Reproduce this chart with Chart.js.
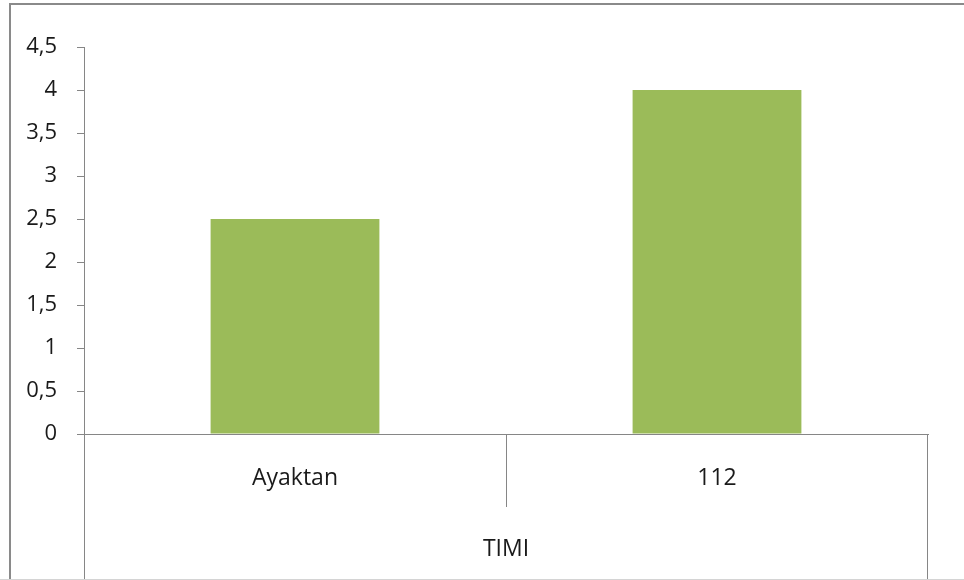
<!DOCTYPE html>
<html>
<head>
<meta charset="utf-8">
<script src="https://cdn.jsdelivr.net/npm/chart.js@4/dist/chart.umd.min.js"></script>
<style>
  html, body { margin: 0; padding: 0; background: #ffffff; }
  #wrap { width: 964px; height: 580px; position: relative; }
</style>
</head>
<body>
<div id="wrap"><canvas id="c" width="964" height="580"></canvas></div>
<script>
// Categories and values
const categories = ['Ayaktan', '112'];
const groupLabel = 'TIMI';
const values = [2.5, 4];
const yMin = 0;
const yMax = 4.5;
const yStep = 0.5;

const FONT = '"Open Sans", "Noto Sans", sans-serif';
const AXIS_GRAY = '#868686';

// Excel-style chart frame and multi-level category boxes
const framePlugin = {
  id: 'frame',
  afterDraw(chart) {
    const { ctx } = chart;
    const x = chart.scales.x;
    const area = chart.chartArea;
    const W = chart.width, H = chart.height;
    ctx.save();
    // category box lines
    ctx.strokeStyle = AXIS_GRAY;
    ctx.lineWidth = 1;
    const mid = (x.getPixelForValue(0) + x.getPixelForValue(1)) / 2;
    ctx.beginPath();
    ctx.moveTo(Math.round(x.left) + 0.5, area.bottom);
    ctx.lineTo(Math.round(x.left) + 0.5, H);
    ctx.moveTo(Math.round(x.right) - 0.5, area.bottom);
    ctx.lineTo(Math.round(x.right) - 0.5, H);
    ctx.moveTo(Math.round(mid) + 0.5, area.bottom);
    ctx.lineTo(Math.round(mid) + 0.5, area.bottom + 73);
    ctx.stroke();
    // outer chart border
    ctx.strokeStyle = '#8a8a8a';
    ctx.lineWidth = 2;
    ctx.beginPath();
    ctx.moveTo(10, H);
    ctx.lineTo(10, 4);
    ctx.lineTo(W, 4);
    ctx.stroke();
    ctx.strokeStyle = '#d4d4d4';
    ctx.lineWidth = 1;
    ctx.beginPath();
    ctx.moveTo(0, H - 0.5);
    ctx.lineTo(W, H - 0.5);
    ctx.stroke();
    ctx.restore();
  }
};

new Chart(document.getElementById('c'), {
  type: 'bar',
  data: {
    labels: categories,
    datasets: [{
      data: values,
      backgroundColor: '#9BBB59',
      borderWidth: 0,
      categoryPercentage: 1,
      barPercentage: 0.4
    }]
  },
  options: {
    responsive: false,
    animation: false,
    events: [],
    layout: { padding: { left: 0, top: 47, right: 36, bottom: 0 } },
    plugins: { legend: { display: false }, tooltip: { enabled: false } },
    scales: {
      x: {
        grid: { display: false },
        border: { display: true, color: AXIS_GRAY, width: 1 },
        ticks: {
          color: '#1a1a1a',
          font: { family: FONT, size: 23 },
          padding: 23,
          maxRotation: 0
        },
        title: {
          display: true,
          text: groupLabel,
          color: '#1a1a1a',
          font: { family: FONT, size: 23 },
          padding: { top: 0, bottom: 17 }
        },
        afterFit(scale) { scale.height = 146; }
      },
      y: {
        min: yMin,
        max: yMax,
        grid: {
          display: true,
          drawOnChartArea: false,
          drawTicks: true,
          tickLength: 7,
          color: AXIS_GRAY
        },
        border: { display: true, color: AXIS_GRAY, width: 1 },
        ticks: {
          stepSize: yStep,
          color: '#1a1a1a',
          font: { family: FONT, size: 22 },
          padding: 20,
          callback: (v) => String(v).replace('.', ',')
        },
        afterFit(scale) { scale.width = 84; }
      }
    }
  },
  plugins: [framePlugin]
});
</script>
</body>
</html>
